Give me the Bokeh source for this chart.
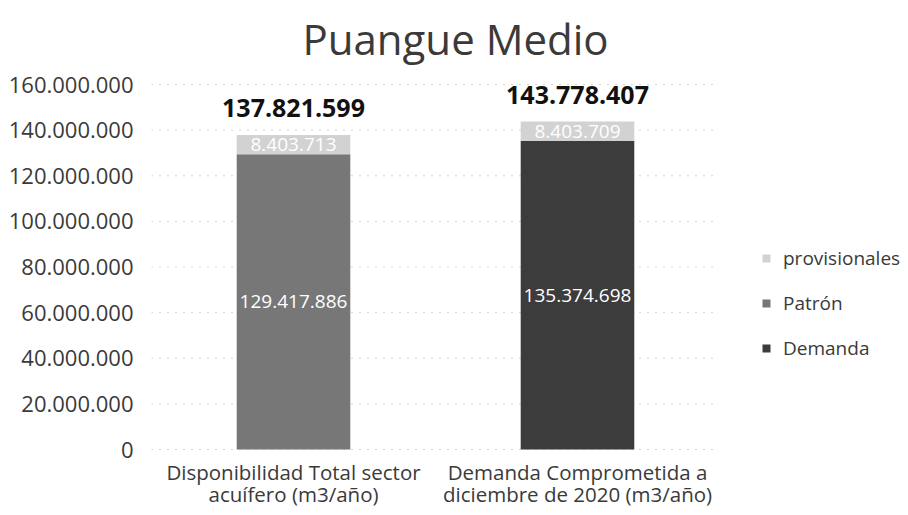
from bokeh.plotting import figure
from bokeh.models import (ColumnDataSource, FixedTicker, CustomJSTickFormatter,
                          Legend, LegendItem, Range1d)
from bokeh.core.properties import value
from bokeh.embed import file_html
from bokeh.resources import INLINE

title = "Puangue Medio"
categories = ["Disponibilidad Total sector\nacuífero (m3/año)",
              "Demanda Comprometida a\ndiciembre de 2020 (m3/año)"]
demanda = [0, 135374698]
patron = [129417886, 0]
provisionales = [8403713, 8403709]
y_ticks = [0, 20000000, 40000000, 60000000, 80000000, 100000000,
           120000000, 140000000, 160000000]

FONT = "Open Sans"
TXT = "#3a3a3a"
C_DEM = "#3c3c3c"
C_PAT = "#777777"
C_PROV = "#d2d2d2"

# layout (pixels): value axis 0 -> y=449, max tick -> y=84; one category = 284 px
W, H = 908, 515
LEFT = 151
Y0_PX, YMAX_PX = 449, 84
CAT_PX = 284
ymax = y_ticks[-1]
per_px = ymax / (Y0_PX - YMAX_PX)


def fmt(v):
    return f"{int(v):,}".replace(",", ".")


xpos = [i + 0.5 for i in range(len(categories))]
base = [d + p for d, p in zip(demanda, patron)]
totals = [b + q for b, q in zip(base, provisionales)]
line1 = [c.split("\n")[0] for c in categories]
line2 = [c.split("\n")[1] for c in categories]

src = ColumnDataSource(dict(
    x=xpos, demanda=demanda, patron=patron, prov=provisionales,
    base=base, totals=totals,
    base_mid=[b / 2 for b in base],
    prov_mid=[b + q / 2 for b, q in zip(base, provisionales)],
    base_lbl=[fmt(b) for b in base],
    prov_lbl=[fmt(q) for q in provisionales],
    tot_lbl=[fmt(t) for t in totals],
    zero=[0] * len(categories), line1=line1, line2=line2,
))

p = figure(x_range=Range1d(0, (W - LEFT) / CAT_PX),
           y_range=Range1d(-(H - Y0_PX) * per_px, ymax + YMAX_PX * per_px),
           width=W, height=H,
           output_backend="svg", toolbar_location=None,
           min_border_left=LEFT, min_border_right=0,
           min_border_top=0, min_border_bottom=0)

# title
p.text(x=[len(categories) / 2], y=[ymax], text=[title], x_offset=20, y_offset=-46,
       text_color=TXT, text_align="center", text_baseline="alphabetic",
       text_font=value(FONT), text_font_size="42px")

# dotted gridlines only across the category area
grid_src = ColumnDataSource(dict(x0=[0] * len(y_ticks), x1=[len(categories)] * len(y_ticks),
                                 y=y_ticks))
p.segment(x0="x0", y0="y", x1="x1", y1="y", source=grid_src,
          line_color="#a8a8a8", line_dash="1 7", line_width=1)

r = p.vbar_stack(["demanda", "patron", "prov"], x="x", width=0.4,
                 source=src, color=[C_DEM, C_PAT, C_PROV], line_color=None)

p.text(x="x", y="base_mid", text="base_lbl", source=src,
       text_color="white", text_align="center", text_baseline="middle",
       text_font=value(FONT), text_font_size="19px")
p.text(x="x", y="prov_mid", text="prov_lbl", source=src,
       text_color="white", text_align="center", text_baseline="middle",
       text_font=value(FONT), text_font_size="19px")
p.text(x="x", y="totals", text="tot_lbl", source=src, y_offset=-27,
       text_color="#111111", text_align="center", text_baseline="middle",
       text_font=value(FONT), text_font_size="25px", text_font_style="bold")

# category labels (two lines) under the value axis origin
for col, off in (("line1", 22), ("line2", 44)):
    p.text(x="x", y="zero", text=col, source=src, y_offset=off,
           text_color=TXT, text_align="center", text_baseline="middle",
           text_font=value(FONT), text_font_size="20.5px")

p.xaxis.visible = False
p.yaxis.ticker = FixedTicker(ticks=y_ticks)
p.yaxis.formatter = CustomJSTickFormatter(
    code="return tick.toLocaleString('en-US').replace(/,/g, '.');")
p.yaxis.axis_line_color = None
p.yaxis.major_tick_line_color = None
p.yaxis.minor_tick_line_color = None
p.yaxis.major_label_text_font = FONT
p.yaxis.major_label_text_color = TXT
p.yaxis.major_label_text_font_size = "22px"
p.yaxis.major_label_standoff = 12

p.xgrid.grid_line_color = None
p.ygrid.grid_line_color = None
p.outline_line_color = None

legend = Legend(items=[
    LegendItem(label="provisionales", renderers=[r[2]]),
    LegendItem(label="Patrón", renderers=[r[1]]),
    LegendItem(label="Demanda", renderers=[r[0]]),
], location=(610, 154))
legend.border_line_color = None
legend.background_fill_alpha = 0
legend.label_text_font = FONT
legend.label_text_font_size = "19px"
legend.label_text_color = TXT
legend.glyph_width = 10
legend.glyph_height = 10
legend.label_height = 24
legend.spacing = 19
legend.label_standoff = 12
p.add_layout(legend)

open("out.html", "w").write(file_html(p, INLINE))
